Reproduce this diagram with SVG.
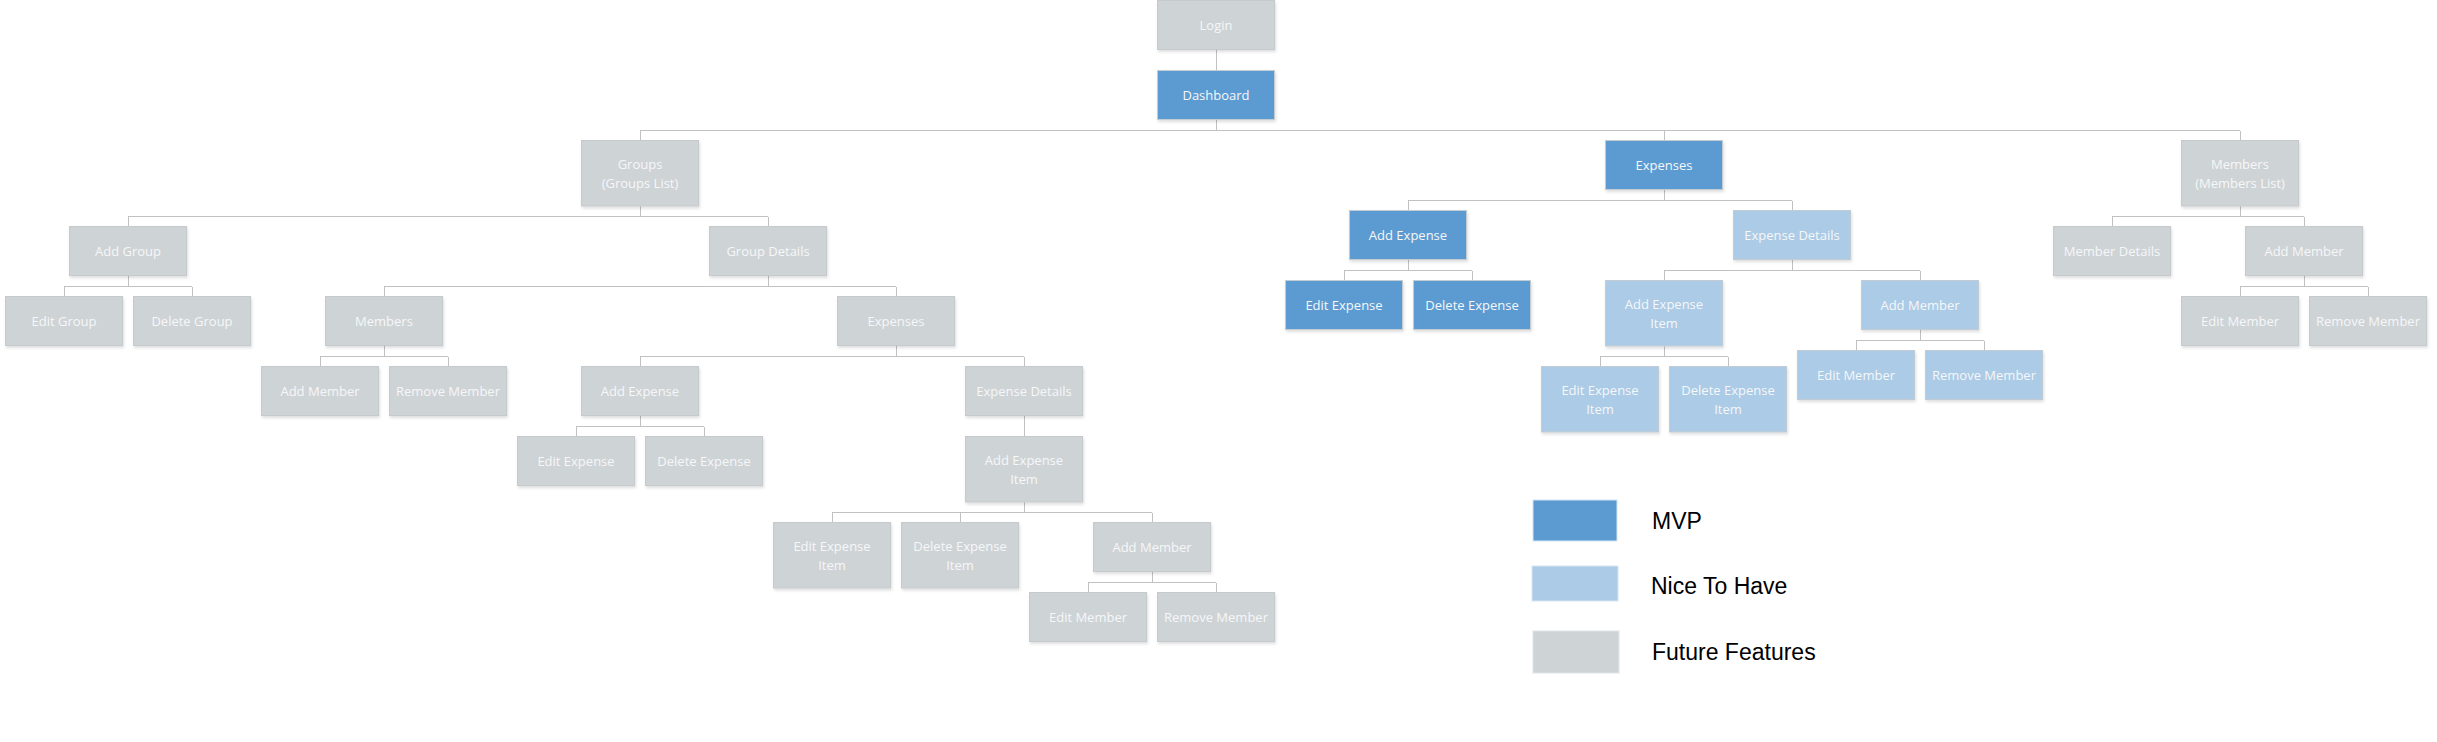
<svg xmlns="http://www.w3.org/2000/svg" width="2437" height="742" viewBox="0 0 2437 742">
<defs>
<filter id="sh" x="-10%" y="-10%" width="130%" height="140%">
<feDropShadow dx="1" dy="2" stdDeviation="1.6" flood-color="#000" flood-opacity="0.13"/>
</filter>
<style>
.n rect{stroke:#c6cacd;stroke-width:1;filter:url(#sh)}
.g rect{fill:#ced3d6}
.m rect{fill:#5b9bd1;stroke:#c4ccd3}
.l rect{fill:#abcbe6;stroke:#c4ccd3}
.n text{font-family:"Open Sans","DejaVu Sans",sans-serif;font-size:13px;fill:#f6f7f8;text-anchor:middle}
#connectors path{fill:none;stroke:#bfc1c3;stroke-width:1;shape-rendering:crispEdges}
.lg{font-family:"Liberation Sans",Arial,sans-serif;font-size:23px;fill:#000}
</style>
</defs>
<rect width="2437" height="742" fill="#fff"/>
<g id="connectors">
<path d="M1216 49.5V70.5M1216 119.5V130.5M640 130.5H2240M640 130.5V140.5M1664 130.5V140.5M2240 130.5V140.5"/>
<path d="M640 206V216.5M128 216.5H768M128 216.5V226.5M768 216.5V226.5"/>
<path d="M128 275.5V286.5M64 286.5H192M64 286.5V296.5M192 286.5V296.5"/>
<path d="M768 275.5V286.5M384 286.5H896M384 286.5V296.5M896 286.5V296.5"/>
<path d="M384 345.5V356.5M320 356.5H448M320 356.5V366.5M448 356.5V366.5"/>
<path d="M896 345.5V356.5M640 356.5H1024M640 356.5V366.5M1024 356.5V366.5"/>
<path d="M640 415.5V426.5M576 426.5H704M576 426.5V436.5M704 426.5V436.5"/>
<path d="M1024 415.5V436.5"/>
<path d="M1024 502V512.5M832 512.5H1152M832 512.5V522.5M960 512.5V522.5M1152 512.5V522.5"/>
<path d="M1152 571.5V582.5M1088 582.5H1216M1088 582.5V592.5M1216 582.5V592.5"/>
<path d="M1664 189.5V200.5M1408 200.5H1792M1408 200.5V210.5M1792 200.5V210.5"/>
<path d="M1408 259.5V270.5M1344 270.5H1472M1344 270.5V280.5M1472 270.5V280.5"/>
<path d="M1792 259.5V270.5M1664 270.5H1920M1664 270.5V280.5M1920 270.5V280.5"/>
<path d="M1664 346V356.5M1600 356.5H1728M1600 356.5V366.5M1728 356.5V366.5"/>
<path d="M1920 329.5V340.5M1856 340.5H1984M1856 340.5V350.5M1984 340.5V350.5"/>
<path d="M2240 206V216.5M2112 216.5H2304M2112 216.5V226.5M2304 216.5V226.5"/>
<path d="M2304 275.5V286.5M2240 286.5H2368M2240 286.5V296.5M2368 286.5V296.5"/>
</g>

<g id="login" class="n g"><rect x="1157.5" y="0.5" width="117" height="49"/><text x="1216" y="29.7">Login</text></g>
<g id="dashboard" class="n m"><rect x="1157.5" y="70.5" width="117" height="49"/><text x="1216" y="99.7">Dashboard</text></g>

<g id="groups" class="n g"><rect x="581.5" y="140.5" width="117" height="65.5"/><text x="640" y="169">Groups</text><text x="640" y="187.5">(Groups List)</text></g>
<g id="add-group" class="n g"><rect x="69.5" y="226.5" width="117" height="49"/><text x="128" y="255.7">Add Group</text></g>
<g id="group-details" class="n g"><rect x="709.5" y="226.5" width="117" height="49"/><text x="768" y="255.7">Group Details</text></g>
<g id="edit-group" class="n g"><rect x="5.5" y="296.5" width="117" height="49"/><text x="64" y="325.7">Edit Group</text></g>
<g id="delete-group" class="n g"><rect x="133.5" y="296.5" width="117" height="49"/><text x="192" y="325.7">Delete Group</text></g>
<g id="g-members" class="n g"><rect x="325.5" y="296.5" width="117" height="49"/><text x="384" y="325.7">Members</text></g>
<g id="g-expenses" class="n g"><rect x="837.5" y="296.5" width="117" height="49"/><text x="896" y="325.7">Expenses</text></g>
<g id="g-add-member" class="n g"><rect x="261.5" y="366.5" width="117" height="49"/><text x="320" y="395.7">Add Member</text></g>
<g id="g-remove-member" class="n g"><rect x="389.5" y="366.5" width="117" height="49"/><text x="448" y="395.7">Remove Member</text></g>
<g id="g-add-expense" class="n g"><rect x="581.5" y="366.5" width="117" height="49"/><text x="640" y="395.7">Add Expense</text></g>
<g id="g-expense-details" class="n g"><rect x="965.5" y="366.5" width="117" height="49"/><text x="1024" y="395.7">Expense Details</text></g>
<g id="g-edit-expense" class="n g"><rect x="517.5" y="436.5" width="117" height="49"/><text x="576" y="465.7">Edit Expense</text></g>
<g id="g-delete-expense" class="n g"><rect x="645.5" y="436.5" width="117" height="49"/><text x="704" y="465.7">Delete Expense</text></g>
<g id="g-add-expense-item" class="n g"><rect x="965.5" y="436.5" width="117" height="65.5"/><text x="1024" y="465">Add Expense</text><text x="1024" y="483.5">Item</text></g>
<g id="g-edit-expense-item" class="n g"><rect x="773.5" y="522.5" width="117" height="65.5"/><text x="832" y="551">Edit Expense</text><text x="832" y="569.5">Item</text></g>
<g id="g-delete-expense-item" class="n g"><rect x="901.5" y="522.5" width="117" height="65.5"/><text x="960" y="551">Delete Expense</text><text x="960" y="569.5">Item</text></g>
<g id="g-item-add-member" class="n g"><rect x="1093.5" y="522.5" width="117" height="49"/><text x="1152" y="551.7">Add Member</text></g>
<g id="g-edit-member" class="n g"><rect x="1029.5" y="592.5" width="117" height="49"/><text x="1088" y="621.7">Edit Member</text></g>
<g id="g-remove-member2" class="n g"><rect x="1157.5" y="592.5" width="117" height="49"/><text x="1216" y="621.7">Remove Member</text></g>

<g id="expenses" class="n m"><rect x="1605.5" y="140.5" width="117" height="49"/><text x="1664" y="169.7">Expenses</text></g>
<g id="add-expense" class="n m"><rect x="1349.5" y="210.5" width="117" height="49"/><text x="1408" y="239.7">Add Expense</text></g>
<g id="expense-details" class="n l"><rect x="1733.5" y="210.5" width="117" height="49"/><text x="1792" y="239.7">Expense Details</text></g>
<g id="edit-expense" class="n m"><rect x="1285.5" y="280.5" width="117" height="49"/><text x="1344" y="309.7">Edit Expense</text></g>
<g id="delete-expense" class="n m"><rect x="1413.5" y="280.5" width="117" height="49"/><text x="1472" y="309.7">Delete Expense</text></g>
<g id="add-expense-item" class="n l"><rect x="1605.5" y="280.5" width="117" height="65.5"/><text x="1664" y="309">Add Expense</text><text x="1664" y="327.5">Item</text></g>
<g id="e-add-member" class="n l"><rect x="1861.5" y="280.5" width="117" height="49"/><text x="1920" y="309.7">Add Member</text></g>
<g id="edit-expense-item" class="n l"><rect x="1541.5" y="366.5" width="117" height="65.5"/><text x="1600" y="395">Edit Expense</text><text x="1600" y="413.5">Item</text></g>
<g id="delete-expense-item" class="n l"><rect x="1669.5" y="366.5" width="117" height="65.5"/><text x="1728" y="395">Delete Expense</text><text x="1728" y="413.5">Item</text></g>
<g id="e-edit-member" class="n l"><rect x="1797.5" y="350.5" width="117" height="49"/><text x="1856" y="379.7">Edit Member</text></g>
<g id="e-remove-member" class="n l"><rect x="1925.5" y="350.5" width="117" height="49"/><text x="1984" y="379.7">Remove Member</text></g>

<g id="members" class="n g"><rect x="2181.5" y="140.5" width="117" height="65.5"/><text x="2240" y="169">Members</text><text x="2240" y="187.5">(Members List)</text></g>
<g id="member-details" class="n g"><rect x="2053.5" y="226.5" width="117" height="49"/><text x="2112" y="255.7">Member Details</text></g>
<g id="m-add-member" class="n g"><rect x="2245.5" y="226.5" width="117" height="49"/><text x="2304" y="255.7">Add Member</text></g>
<g id="m-edit-member" class="n g"><rect x="2181.5" y="296.5" width="117" height="49"/><text x="2240" y="325.7">Edit Member</text></g>
<g id="m-remove-member" class="n g"><rect x="2309.5" y="296.5" width="117" height="49"/><text x="2368" y="325.7">Remove Member</text></g>

<g id="legend">
<rect x="1533" y="500" width="84" height="41" fill="#5b9bd1" stroke="#d6e4f1" stroke-width="1"/>
<rect x="1532" y="566" width="86" height="35" fill="#abcbe6" stroke="#d8e6f2" stroke-width="1"/>
<rect x="1533" y="631" width="86" height="42" fill="#ced3d6" stroke="#e1e4e6" stroke-width="1"/>
<text class="lg" x="1652" y="529">MVP</text>
<text class="lg" x="1651" y="593.5">Nice To Have</text>
<text class="lg" x="1652" y="660">Future Features</text>
</g>
</svg>
